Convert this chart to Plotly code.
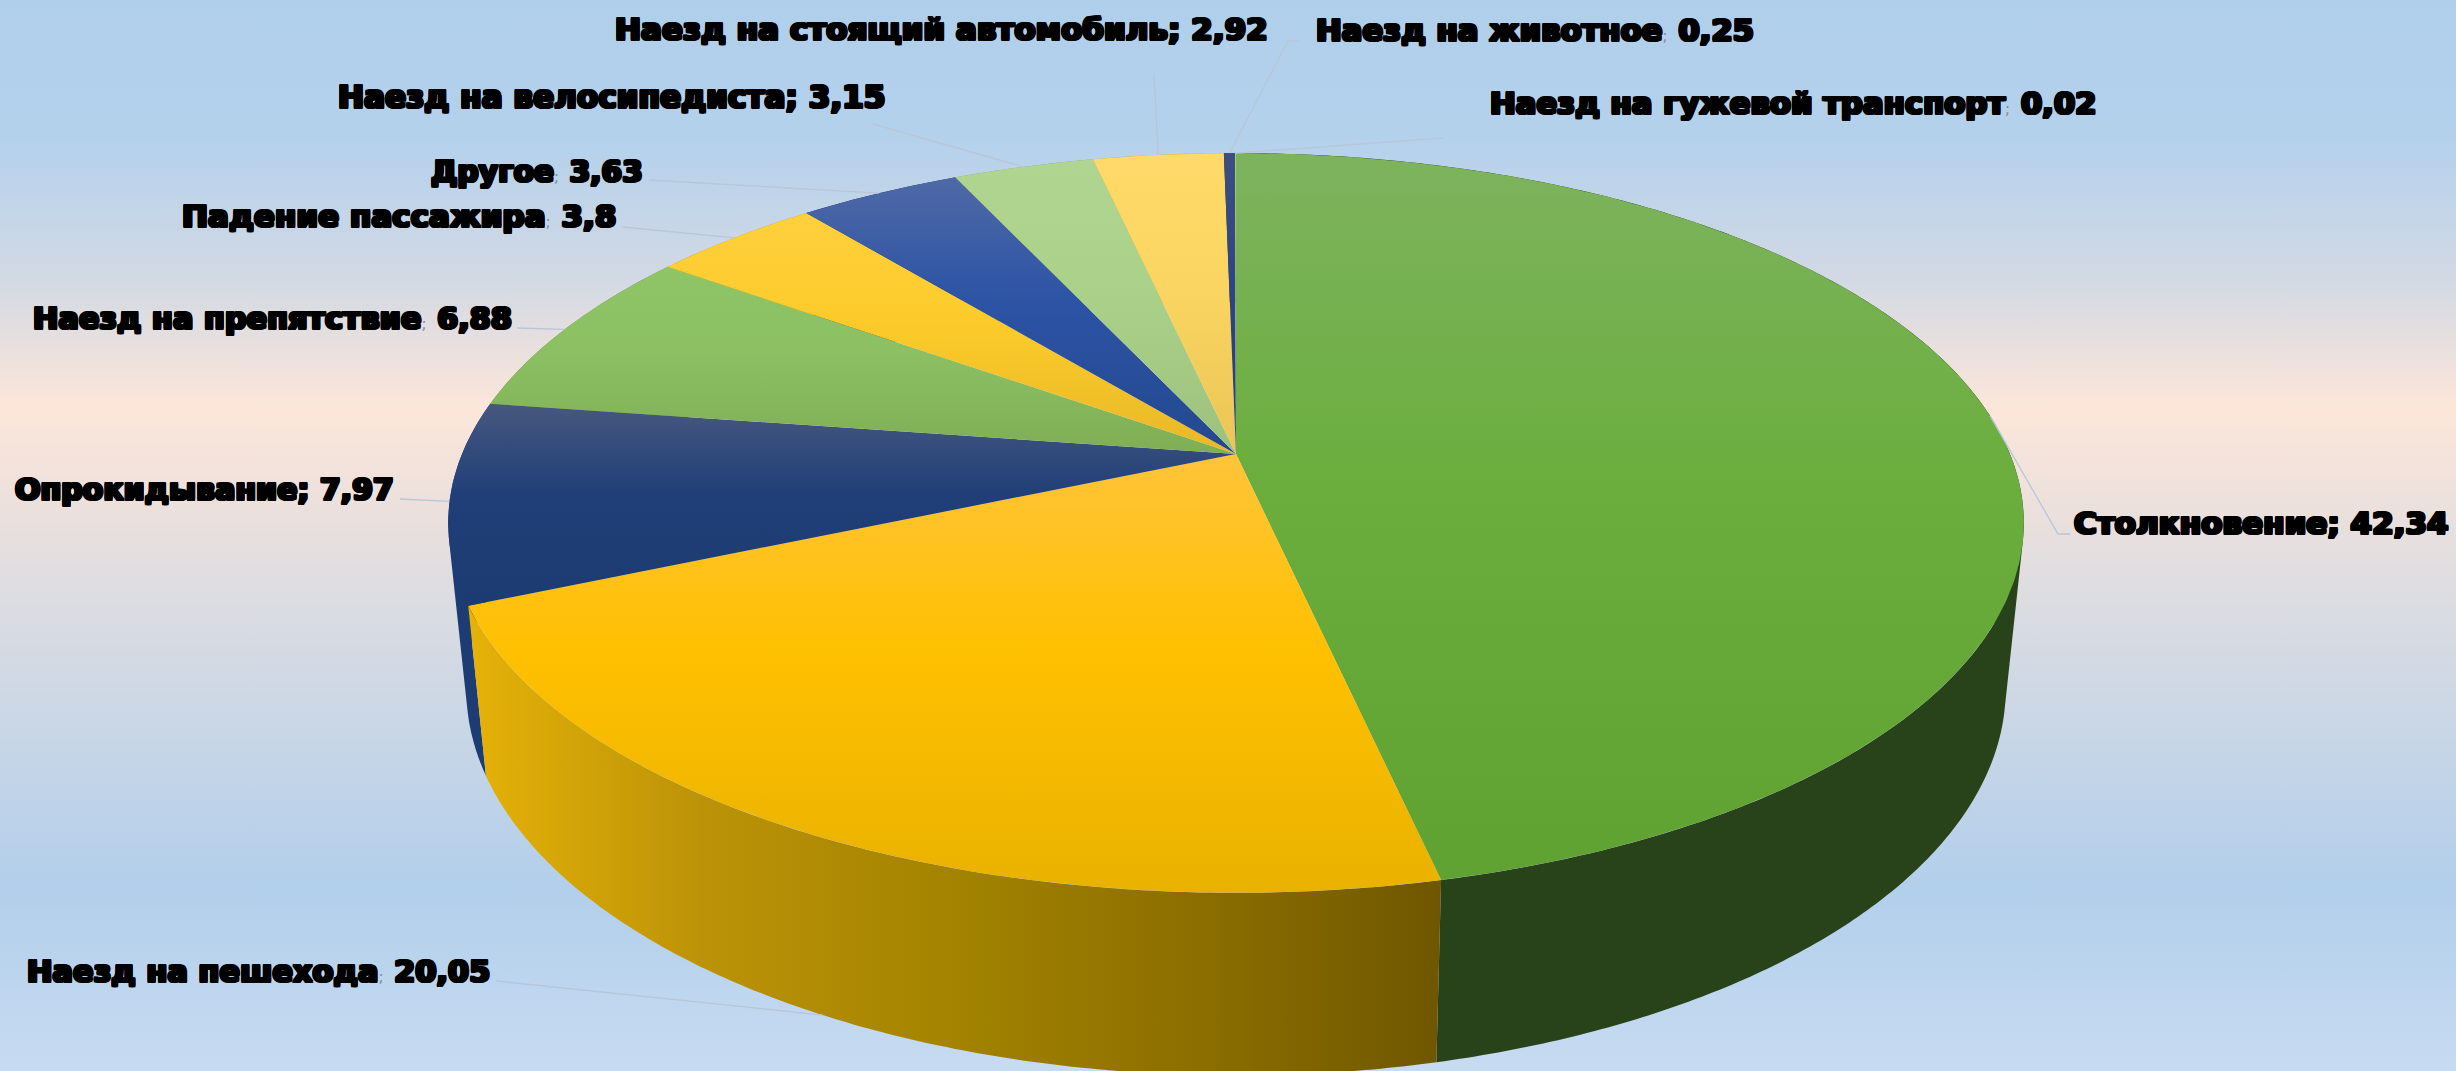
import numpy as np
import plotly.graph_objects as go

# Accident types and their shares, clockwise from twelve o'clock
categories = ["Столкновение", "Наезд на пешехода", "Опрокидывание", "Наезд на препятствие",
              "Падение пассажира", "Другое", "Наезд на велосипедиста",
              "Наезд на стоящий автомобиль", "Наезд на животное", "Наезд на гужевой транспорт"]
values = [42.34, 20.05, 7.97, 6.88, 3.8, 3.63, 3.15, 2.92, 0.25, 0.02]

# Face gradients (top to bottom) and wall colours
face_colors = [["#7EB35E", "#6BAE3E", "#60A232"], ["#FFC43A", "#FFC000", "#E9B200"],
               ["#47587F", "#203F78", "#1C3B72"], ["#8FC566", "#8CC063", "#7FAE55"],
               ["#FFD03E", "#FCCB2A", "#E8B828"], ["#4F69A6", "#2C53A5", "#24488F"],
               ["#B0D592", "#AAD189", "#9CC17E"], ["#FFDA6A", "#FBD561", "#EBC555"],
               ["#3D4F7F", "#2C4680", "#24406F"], ["#A9D18E", "#A9D18E", "#A9D18E"]]
wall_colors = ["#28431A", None, "#1E3C74", "#6E9A4E", "#C99A1E", "#1F3D78", "#85A56A", "#BFA040", "#1E3060", "#85A56A"]
pedestrian_wall = [[0, "#E6B208"], [0.24, "#BC9308"], [0.5, "#A38300"], [0.75, "#8C6E00"], [1, "#6F5700"]]
background = [[0, "#B0CFEB"], [0.13, "#B4D1EC"], [0.26, "#D2D9E4"], [0.38, "#FCE6D9"],
              [0.46, "#EEE1DC"], [0.6, "#D5DAE3"], [0.83, "#B2CFEB"], [1, "#C7DBF1"]]

# Label centres, font sizes, and whether the separator is drawn bold
label_x = [2261, 258, 204, 272, 399, 537, 611, 941, 1535, 1793]
label_y = [523, 971, 489, 318, 216, 171, 97, 29, 30, 103]
label_size = [31, 30.4, 30, 30.3, 31, 29.7, 31.1, 31, 30.7, 30.7]
bold_sep = [True, False, True, False, False, False, True, True, False, False]
# Free end of each leader line (elbows listed first), and which rim it lands on
leader_start = [[(2070, 534), (2058, 534)], [(496, 981)], [(400, 499)], [(517, 328)], [(623, 227)],
                [(649, 180)], [(873, 124)], [(1154, 74)], [(1299, 41), (1288, 41)], [(1443, 138)]]
leader_on_bottom = [False, True, False, False, False, False, False, False, False, False]

W, H = 2456, 1071
CX, CY = 1236, 454      # projected pie centre
A, B, K = 774, 357, 0.1864  # circle radii on screen and perspective strength
DEPTH, SX, SY = 163, 0.977, 1.045  # offset and scaling of the lower rim


def top_rim(theta):
    u, v = np.sin(theta), np.cos(theta)
    d = 1 + K * v
    return CX + A * u / d, CY - B * v / d


def bottom_rim(theta):
    x, y = top_rim(theta)
    return CX + SX * (x - CX), CY + DEPTH + SY * (y - CY)


def arc(i):
    return np.linspace(edges[i], edges[i + 1], max(int(np.degrees(edges[i + 1] - edges[i])) * 2, 6))


def swept_wall(theta):
    """Quads between the two rims, wound the same way so their union fills solid."""
    xt, yt = top_rim(theta)
    xb, yb = bottom_rim(theta)
    xs, ys = [], []
    for j in range(len(theta) - 1):
        qx = [xt[j], xt[j + 1], xb[j + 1], xb[j]]
        qy = [yt[j], yt[j + 1], yb[j + 1], yb[j]]
        area = sum(qx[n] * qy[(n + 1) % 4] - qx[(n + 1) % 4] * qy[n] for n in range(4))
        if area < 0:
            qx, qy = qx[::-1], qy[::-1]
        xs += qx + [qx[0], None]
        ys += qy + [qy[0], None]
    return xs, ys


total = sum(values)
edges = np.concatenate([[0], np.cumsum(values)]) / total * 2 * np.pi

fig = go.Figure()
fig.add_trace(go.Scatter(x=[0, W, W, 0, 0], y=[0, 0, H, H, 0], mode="lines", line_width=0, fill="toself",
                         fillgradient=dict(type="vertical", colorscale=background, start=0, stop=H),
                         hoverinfo="skip", showlegend=False))

# Walls: back slices first, so the nearer slices overlap them
wall_order = [8, 9, 7, 6, 5, 4, 3, 0, 2, 1]
for i in wall_order:
    th = arc(i)
    xs, ys = swept_wall(th)
    if wall_colors[i]:
        style = dict(fillcolor=wall_colors[i])
    else:
        finite = [x for x in xs if x is not None]
        style = dict(fillgradient=dict(type="horizontal", colorscale=pedestrian_wall,
                                       start=min(finite), stop=max(finite)))
    fig.add_trace(go.Scatter(x=xs, y=ys, mode="lines", line_width=0, fill="toself",
                             hoverinfo="skip", showlegend=False, **style))

# Top faces
for i in range(len(values)):
    xt, yt = top_rim(arc(i))
    c = face_colors[i]
    ys = np.concatenate([[CY], yt, [CY]])
    fig.add_trace(go.Scatter(x=np.concatenate([[CX], xt, [CX]]), y=ys,
                             mode="lines", line_width=0, fill="toself",
                             fillgradient=dict(type="vertical", start=float(ys.min()), stop=float(ys.max()),
                                               colorscale=[[0, c[0]], [0.45, c[1]], [1, c[2]]]),
                             name=categories[i], hoverinfo="name", showlegend=False))

# Leader lines run from the label to the middle of the slice's rim
for i in range(len(values)):
    mid = (edges[i] + edges[i + 1]) / 2
    ex, ey = bottom_rim(mid) if leader_on_bottom[i] else top_rim(mid)
    pts = leader_start[i] + [(float(ex), float(ey))]
    fig.add_trace(go.Scatter(x=[p[0] for p in pts], y=[p[1] for p in pts], mode="lines",
                             line=dict(color="#B9C6D8", width=1.3), hoverinfo="skip", showlegend=False))

# Heavy lettering: bold face thickened by a tight outline
S = 1.4
OUTLINE = ", ".join(f"{dx}px {dy}px 0 #000" for dx, dy in
                    [(S, 0), (-S, 0), (0, S), (0, -S), (S, S), (-S, S), (S, -S), (-S, -S)])
for i, name in enumerate(categories):
    if bold_sep[i]:
        sep = ";"
    else:
        sep = '<span style="font-weight:normal;font-size:15px;color:#8A8A8A;text-shadow:none">;</span>'
    text = f"{name}{sep} {str(values[i]).replace('.', ',')}"
    fig.add_annotation(x=label_x[i], y=label_y[i], text=text, showarrow=False, xanchor="center", yanchor="middle",
                       font=dict(family="DejaVu Sans", size=label_size[i], color="#000000", weight=700, shadow=OUTLINE))

fig.update_layout(width=W, height=H, margin=dict(l=0, r=0, t=0, b=0), showlegend=False,
                  paper_bgcolor="#C7DBF1", plot_bgcolor="rgba(0,0,0,0)",
                  xaxis=dict(range=[0, W], visible=False, fixedrange=True),
                  yaxis=dict(range=[H, 0], visible=False, fixedrange=True))
fig.write_html("out.html", config=dict(displayModeBar=False))
